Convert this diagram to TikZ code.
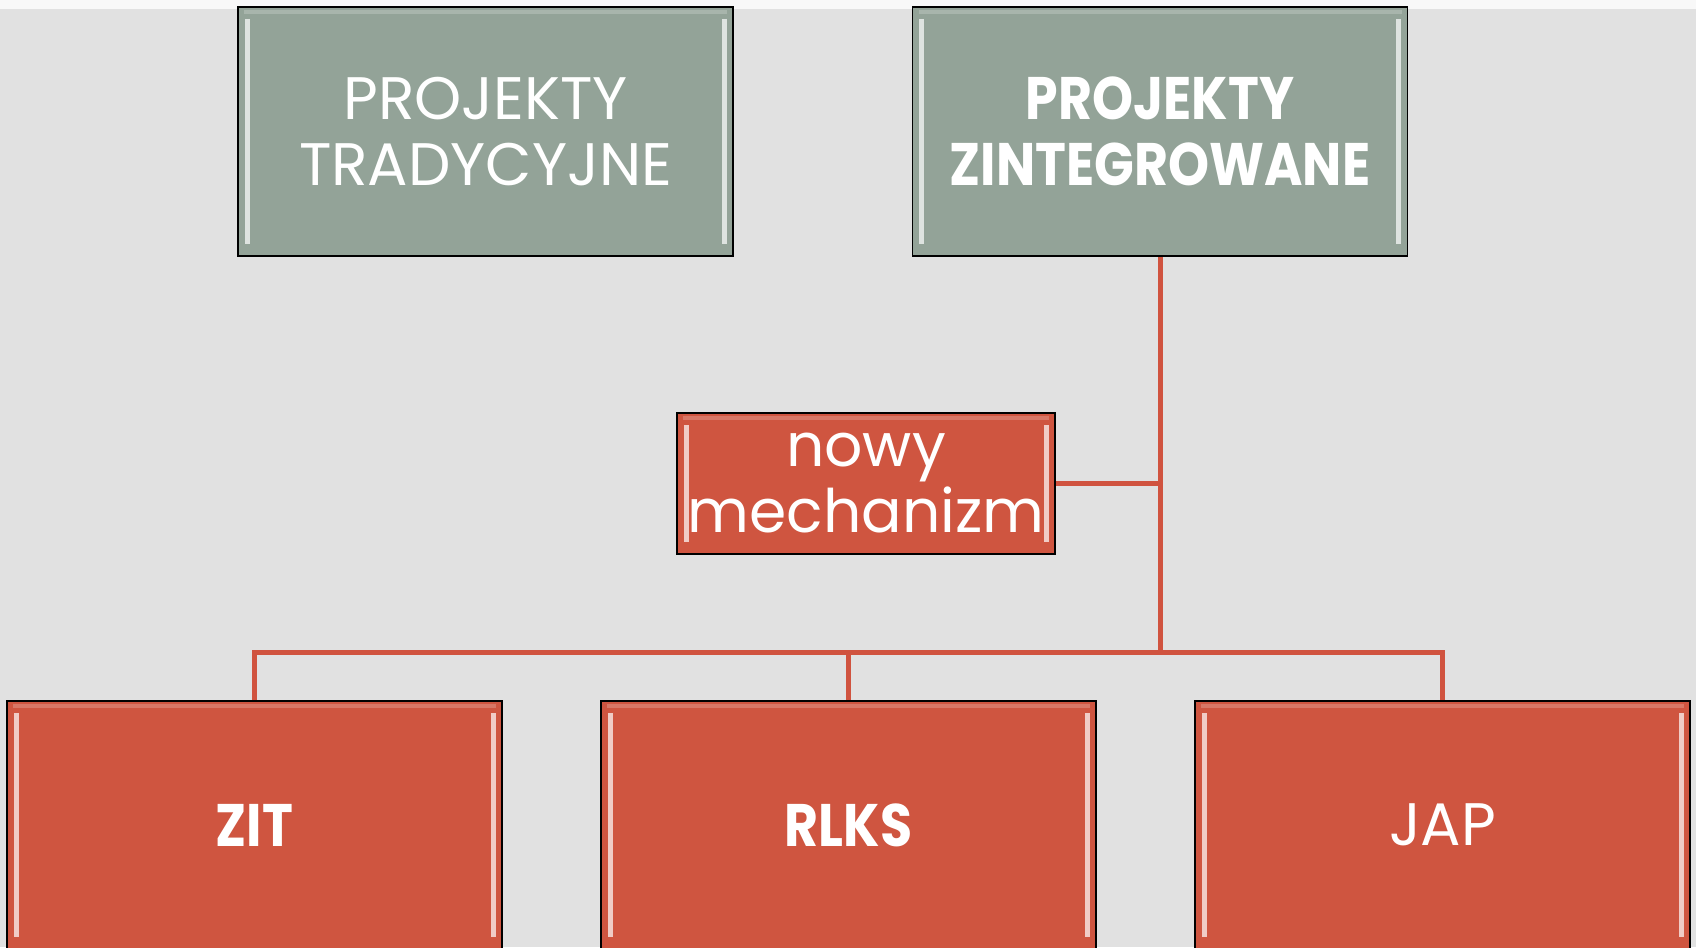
\documentclass[tikz,border=0pt]{standalone}
\usepackage{fontspec}
\setmainfont{Poppins}[BoldFeatures={FakeStretch=0.87}]
\usetikzlibrary{positioning}
\definecolor{bgray}{HTML}{E1E1E1}
\definecolor{topstrip}{HTML}{F8F8F8}
\definecolor{sage}{HTML}{93A398}
\definecolor{brick}{HTML}{CF5540}
\definecolor{brickline}{HTML}{D0533F}
\tikzset{
  bevel/.style={path picture={
    \draw[white,opacity=.7,line width=2.5pt]
      ([xshift=4.5pt,yshift=-6pt]path picture bounding box.north west) --
      ([xshift=4.5pt,yshift=6pt]path picture bounding box.south west);
    \draw[white,opacity=.7,line width=2.5pt]
      ([xshift=-4.5pt,yshift=-6pt]path picture bounding box.north east) --
      ([xshift=-4.5pt,yshift=6pt]path picture bounding box.south east);
    \draw[white,opacity=.2,line width=2pt]
      ([xshift=3pt,yshift=-2.5pt]path picture bounding box.north west) --
      ([xshift=-3pt,yshift=-2.5pt]path picture bounding box.north east);}},
  box/.style={rectangle,draw=black,line width=0.8pt,text=white,align=center,
    inner sep=0pt,bevel,font=\fontsize{30pt}{33pt}\selectfont},
  topbox/.style={box,fill=sage,minimum width=247.5pt,minimum height=124.5pt},
  subbox/.style={box,fill=brick,minimum width=247.5pt,minimum height=124pt},
  midbox/.style={box,fill=brick,minimum width=189pt,minimum height=70.5pt},
  link/.style={draw=brickline,line width=2.5pt}
}
\begin{document}
\begin{tikzpicture}[x=0.5pt,y=-0.5pt]
    \useasboundingbox (0,0) rectangle (1696,947);
    \fill[bgray] (0,0) rectangle (1696,947);
    \fill[topstrip] (0,0) rectangle (1696,9);
    \coordinate (hub) at (1160,652);
    \coordinate (junc) at (1160,486);
    \node[topbox] (p_trad) at (485.5,131.5) {PROJEKTY\\TRADYCYJNE};
    \node[topbox] (p_zint) at (1160,131.5) {\bfseries PROJEKTY\\\bfseries ZINTEGROWANE};
    \node[midbox] (nowy) at (866,483.5) {nowy\\mechanizm};
    \node[subbox] (zit) at (254.5,825) {\bfseries ZIT};
    \node[subbox] (rlks) at (848.5,825) {\bfseries RLKS};
    \node[subbox] (jap) at (1442.5,825) {JAP};
    \path[link]
    (p_zint.south) -- (hub)
    (nowy.east) -- (nowy.east -| junc)
    (hub) -| (zit.north)
    (hub) -| (rlks.north)
    (hub) -| (jap.north)
    ; %end path
  \end{tikzpicture}
\end{document}
